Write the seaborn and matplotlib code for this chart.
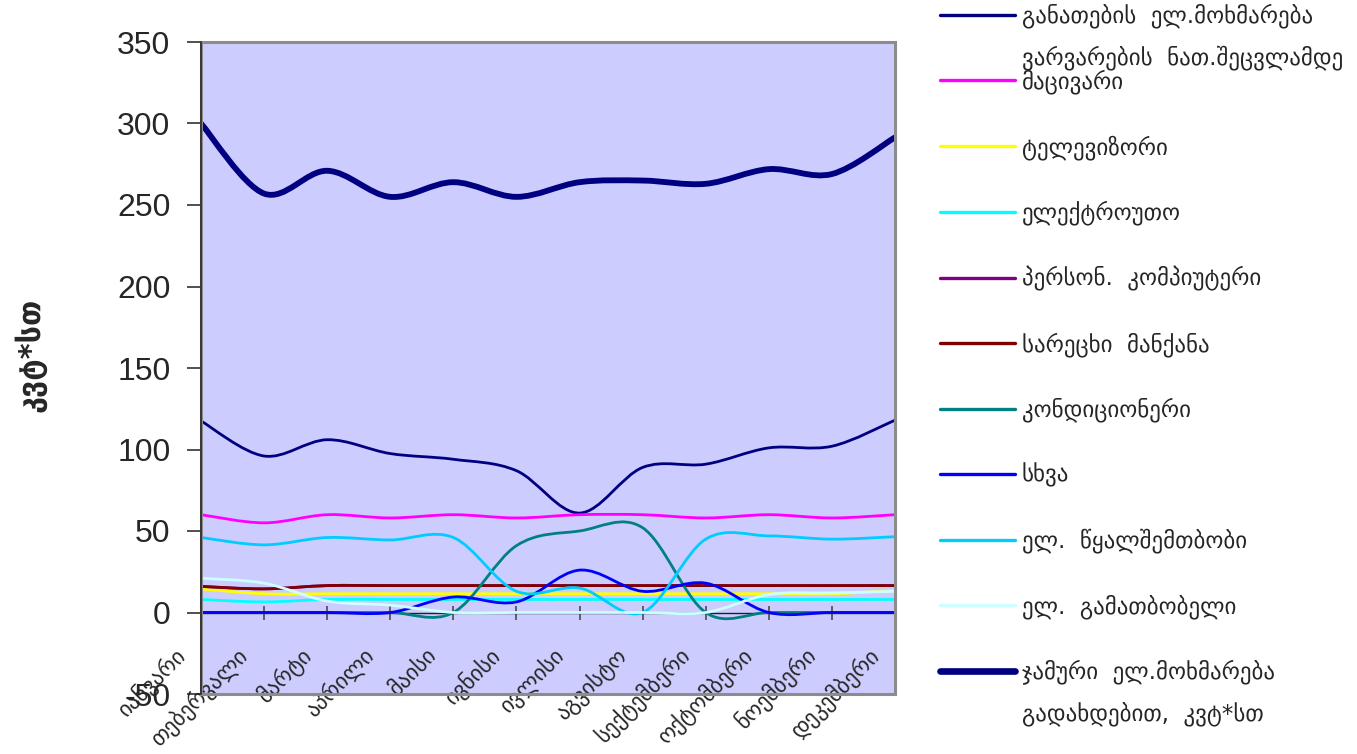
import matplotlib
matplotlib.use("Agg")
import matplotlib.pyplot as plt
import seaborn as sns
from matplotlib.path import Path
from matplotlib.patches import PathPatch, Rectangle
from matplotlib.lines import Line2D
from matplotlib.transforms import ScaledTranslation, IdentityTransform

# ---- data (kWh per month) ----
months = ["იანვარი", "თებერვალი", "მარტი", "აპრილი", "მაისი", "ივნისი",
          "ივლისი", "აგვისტო", "სექტემბერი", "ოქტომბერი", "ნოემბერი", "დეკემბერი"]

lighting = [117.5, 96, 106, 97.5, 94, 87, 61, 89, 91, 101, 102, 118]
fridge = [60, 55, 60, 58, 60, 58, 60, 60, 58, 60, 58, 60]
television = [14.5, 11.5, 11.5, 11.5, 11.5, 11.5, 11.5, 11.5, 11.5, 11.5, 11.5, 13.5]
iron = [8, 6.5, 8, 8, 8, 8, 8, 8, 8, 8, 8, 8]
computer = [16, 14.5, 16.5, 16.5, 16.5, 16.5, 16.5, 16.5, 16.5, 16.5, 16.5, 16.5]
washer = [16, 14.5, 16.5, 16.5, 16.5, 16.5, 16.5, 16.5, 16.5, 16.5, 16.5, 16.5]
aircon = [0, 0, 0, 0, 0, 41, 50, 52, 0, 0, 0, 0]
other = [0, 0, 0, 0, 9.5, 6.5, 26, 13, 18, 0, 0, 0]
water_heater = [46, 41.5, 46, 44.5, 46, 13, 15, 0, 45, 47, 45, 46.5]
heater = [21, 18, 7, 4.5, 0, 0, 0, 0, 0, 11, 12, 13]
total = [300, 257, 271, 255, 264, 255, 264, 265, 263, 272, 269, 291.5]

series_labels = [
    ["განათების  ელ.მოხმარება", "ვარვარების  ნათ.შეცვლამდე"],
    ["მაცივარი"],
    ["ტელევიზორი"],
    ["ელექტროუთო"],
    ["პერსონ.  კომპიუტერი"],
    ["სარეცხი  მანქანა"],
    ["კონდიციონერი"],
    ["სხვა"],
    ["ელ.  წყალშემთბობი"],
    ["ელ.  გამათბობელი"],
    ["ჯამური  ელ.მოხმარება", "გადახდებით,  კვტ*სთ"],
]
series_values = [lighting, fridge, television, iron, computer, washer,
                 aircon, other, water_heater, heater, total]
series_colors = ["#000080", "#FF00FF", "#FFFF00", "#00FFFF", "#800080", "#800000",
                 "#008080", "#0000FF", "#00CCFF", "#CCFFFF", "#000080"]
series_widths = [2.0, 2.0, 2.0, 2.0, 2.0, 2.0, 2.0, 2.0, 2.0, 2.0, 4.2]

y_ticks = [-50, 0, 50, 100, 150, 200, 250, 300, 350]

sns.set_theme(style="ticks")
plt.rcParams["font.family"] = ["DejaVu Sans"]

W, H = 1357, 754
fig = plt.figure(figsize=(W / 100, H / 100), dpi=100)
fig.patch.set_facecolor("white")
ax = fig.add_axes([201 / W, 1 - 694 / H, (895 - 201) / W, (694 - 42) / H])
ax.set_facecolor("#CCCCFF")


def smooth_path(xs, ys):
    """Cubic Bezier path through every point (spreadsheet-style smoothed line)."""
    pts = list(zip(xs, ys))
    n = len(pts)
    verts = [pts[0]]
    codes = [Path.MOVETO]
    for i in range(n - 1):
        p0 = pts[max(i - 1, 0)]
        p1 = pts[i]
        p2 = pts[i + 1]
        p3 = pts[min(i + 2, n - 1)]
        c1 = (p1[0] + (p2[0] - p0[0]) / 6, p1[1] + (p2[1] - p0[1]) / 6)
        c2 = (p2[0] - (p3[0] - p1[0]) / 6, p2[1] - (p3[1] - p1[1]) / 6)
        verts += [c1, c2, p2]
        codes += [Path.CURVE4] * 3
    return Path(verts, codes)


x_pos = list(range(len(months)))
handles = []
for vals, color, lw in zip(series_values, series_colors, series_widths):
    patch = PathPatch(smooth_path(x_pos, vals), facecolor="none", edgecolor=color,
                      lw=lw, capstyle="round", joinstyle="round",
                      transform=ax.transData, zorder=3)
    ax.add_patch(patch)
    handles.append(Line2D([], [], color=color, lw=lw + (0.6 if lw > 3 else 0.4)))

ax.set_xlim(0, len(months) - 1)
ax.set_ylim(-50, 350)

# axes frame: grey plot-area border, black value axis, category axis at zero
for side in ["top", "right"]:
    ax.spines[side].set_visible(False)
ax.spines["left"].set_color("#303030")
ax.spines["left"].set_linewidth(1.3)
ax.spines["left"].set_zorder(6)
ax.spines["bottom"].set_position(("data", 0))
ax.spines["bottom"].set_color("#202020")
ax.spines["bottom"].set_linewidth(1.0)
ax.spines["bottom"].set_zorder(2)
ax.add_patch(Rectangle((0, 0), 1, 1, transform=ax.transAxes, fill=False,
                       edgecolor="#8C8C8C", lw=2.2, clip_on=False, zorder=5))

ax.set_yticks(y_ticks)
ax.set_yticklabels([str(v) for v in y_ticks], fontfamily="Liberation Sans", fontsize=23)
ax.tick_params(axis="y", direction="out", length=10, width=1.1, color="#202020", pad=12)

ax.set_xticks(x_pos)
ax.set_xticklabels(months, fontsize=16)
ax.tick_params(axis="x", direction="inout", length=10, width=1.1, color="#404040", pad=0)
label_shift = ScaledTranslation(-19 / 100, -32 / 100, fig.dpi_scale_trans)
for lab in ax.get_xticklabels():
    lab.set_rotation(45)
    lab.set_ha("right")
    lab.set_va("center")
    lab.set_rotation_mode("anchor")
    lab.set_transform(lab.get_transform() + label_shift)

fig.text(30 / W, 1 - 355 / H, "კვტ*სთ", rotation=90, fontsize=22, fontweight="bold",
         ha="center", va="center")

# ---- legend ----
leg_fs = 16.5
fs_px = leg_fs * 100 / 72
first_lines = [lbl[0] for lbl in series_labels]


def make_legend(spacing, top_y):
    return fig.legend(handles, first_lines, loc="upper left",
                      bbox_to_anchor=(940 / W, top_y), frameon=False,
                      prop={"family": "DejaVu Sans", "size": leg_fs},
                      handlelength=75 / fs_px, handletextpad=7 / fs_px,
                      borderpad=0, borderaxespad=0, labelspacing=spacing)


target_first = H - 16
target_step = 65.6
spacing, top_y = 2.4, 1.0
leg = make_legend(spacing, top_y)
for _ in range(3):
    fig.canvas.draw()
    r = fig.canvas.get_renderer()
    cs = [(t.get_window_extent(r).y0 + t.get_window_extent(r).y1) / 2 for t in leg.get_texts()]
    step = (cs[0] - cs[-1]) / (len(cs) - 1)
    spacing += (target_step - step) / fs_px
    top_y += (target_first - cs[0]) / H
    leg.remove()
    leg = make_legend(spacing, top_y)

fig.canvas.draw()
r = fig.canvas.get_renderer()
for idx, lbl in enumerate(series_labels):
    if len(lbl) > 1:
        bb = leg.get_texts()[idx].get_window_extent(r)
        yc = (bb.y0 + bb.y1) / 2
        fig.text(bb.x0, yc - 42, lbl[1], fontsize=leg_fs, family="DejaVu Sans",
                 ha="left", va="center", transform=IdentityTransform())

fig.savefig("out.png", dpi=100)
